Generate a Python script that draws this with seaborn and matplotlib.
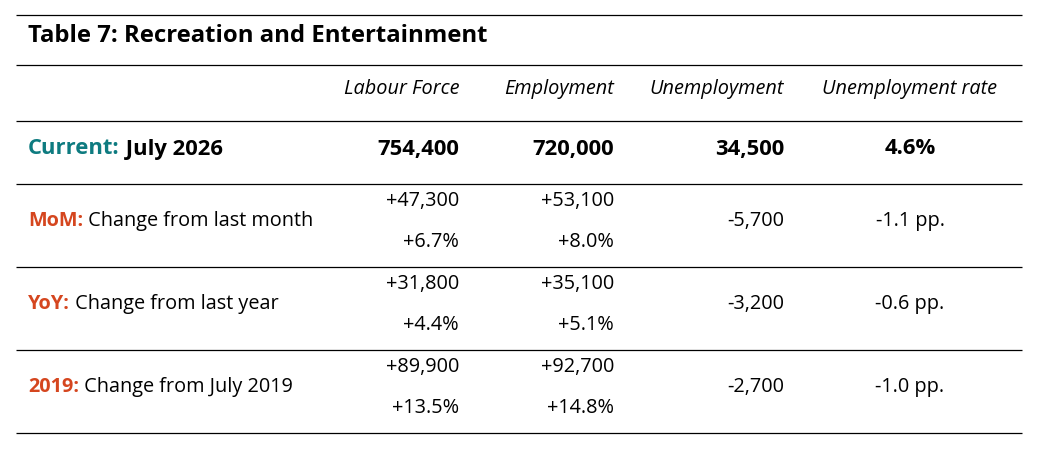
import matplotlib
matplotlib.use("Agg")
import matplotlib.pyplot as plt
import seaborn as sns

sns.set_theme(style="white")
plt.rcParams["font.family"] = ["Open Sans", "DejaVu Sans"]
plt.rcParams["text.color"] = "black"

title = "Table 7: Recreation and Entertainment"
columns = ["Labour Force", "Employment", "Unemployment", "Unemployment rate"]

current_tag = "Current:"
current_label = "July 2026"
current_values = ["754,400", "720,000", "34,500", "4.6%"]

row_tags = ["MoM:", "YoY:", "2019:"]
row_labels = ["Change from last month", "Change from last year", "Change from July 2019"]
change_counts = [
    ["+47,300", "+53,100", "-5,700", "-1.1 pp."],
    ["+31,800", "+35,100", "-3,200", "-0.6 pp."],
    ["+89,900", "+92,700", "-2,700", "-1.0 pp."],
]
change_pcts = [
    ["+6.7%", "+8.0%"],
    ["+4.4%", "+5.1%"],
    ["+13.5%", "+14.8%"],
]

teal = "#0e7b80"
orange = "#d5461f"
body = 14.3

W, H = 1037, 451
fig = plt.figure(figsize=(W / 100, H / 100), dpi=100)
ax = fig.add_axes([0, 0, 1, 1])
ax.set_xlim(0, W)
ax.set_ylim(H, 0)
ax.axis("off")

# horizontal rules
rules = [15, 65, 121, 184, 267, 350, 433]
ax.hlines(rules, 16, 1022, color="black", lw=0.9)

# column anchors: right edges for the first three, centre for the rate
col_x = [459, 614, 784, 910]
col_ha = ["right", "right", "right", "center"]

ax.text(28, 36, title, fontsize=17.2, fontweight="bold", ha="left", va="center")

for name, x, ha in zip(columns, col_x, col_ha):
    ax.text(x, 89, name, fontsize=body, style="italic", ha=ha, va="center")

# current row
t = ax.text(28, 149, current_tag, fontsize=15.8, fontweight="bold", color=teal,
            ha="left", va="center")
ax.annotate(" " + current_label, xy=(1, 0), xycoords=t, fontsize=15.8,
            fontweight="bold", ha="left", va="bottom")
for val, x, ha in zip(current_values, col_x, col_ha):
    ax.text(x, 149, val, fontsize=15.8, fontweight="bold", ha=ha, va="center")

# change rows
row_mid = [221, 304, 387]
for tag, label, counts, pcts, ym in zip(row_tags, row_labels, change_counts, change_pcts, row_mid):
    t = ax.text(28, ym, tag, fontsize=body, fontweight="bold", color=orange,
                ha="left", va="center")
    ax.annotate(" " + label, xy=(1, 0), xycoords=t, fontsize=body,
                ha="left", va="bottom")
    for i in range(2):
        ax.text(col_x[i], ym - 20, counts[i], fontsize=body, ha="right", va="center")
        ax.text(col_x[i], ym + 21, pcts[i], fontsize=body, ha="right", va="center")
    ax.text(col_x[2], ym, counts[2], fontsize=body, ha="right", va="center")
    ax.text(col_x[3], ym, counts[3], fontsize=body, ha="center", va="center")

fig.savefig("out.png", dpi=100, facecolor="white")
